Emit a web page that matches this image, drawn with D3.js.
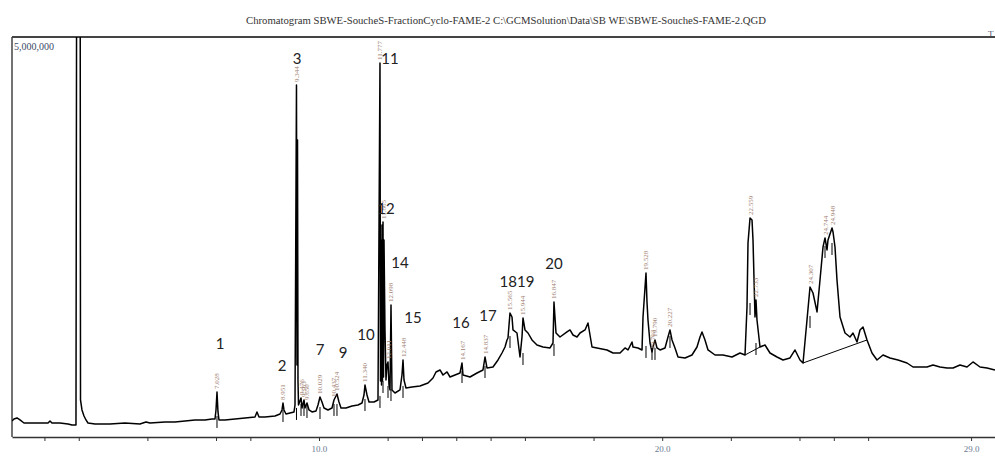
<!DOCTYPE html>
<html>
<head>
<meta charset="utf-8">
<script src="https://cdn.jsdelivr.net/npm/d3@7"></script>
<style>
  body { margin: 0; background: #fff; }
</style>
</head>
<body>
<div id="chart"></div>
<script>
var title = "Chromatogram SBWE-SoucheS-FractionCyclo-FAME-2 C:\\GCMSolution\\Data\\SB WE\\SBWE-SoucheS-FAME-2.QGD";

// TIC trace: [retention time (min), intensity (x1000 counts)]
var trace = [
  [1.055,200],[1.113,225],[1.200,238],[1.288,213],[1.404,175],[1.579,175],[1.870,175],[2.104,175],[2.162,200],[2.220,175],
  [2.453,175],[2.686,163],[2.803,150],[2.919,150],[2.949,9000],[3.036,9000],[3.051,463],[3.094,338],[3.153,263],[3.211,213],
  [3.269,175],[3.473,163],[3.910,163],[4.347,175],[4.784,163],[4.959,188],[5.076,175],[5.513,188],[5.804,188],[6.096,200],
  [6.387,213],[6.678,213],[6.882,225],[6.970,225],[6.999,338],[7.028,563],[7.057,313],[7.086,213],[7.261,213],[7.552,225],
  [7.844,238],[8.135,250],[8.193,313],[8.252,250],[8.427,250],[8.718,263],[8.864,288],[8.922,338],[8.951,425],[8.980,338],
  [9.038,288],[9.155,300],[9.272,313],[9.301,400],[9.344,4400],[9.359,900],[9.374,3713],[9.388,700],[9.403,400],[9.476,488],[9.505,363],[9.563,463],
  [9.592,363],[9.650,425],[9.709,338],[9.796,313],[9.913,325],[9.971,400],[10.029,500],[10.087,438],[10.146,363],[10.262,338],
  [10.379,363],[10.437,463],[10.495,513],[10.524,538],[10.583,438],[10.641,363],[10.787,363],[10.962,388],[11.136,400],[11.253,425],
  [11.311,525],[11.340,650],[11.399,525],[11.457,438],[11.603,438],[11.719,463],[11.777,4675],[11.792,700],[11.807,2463],[11.822,650],[11.836,2650],[11.850,700],[11.865,2688],
  [11.880,750],[11.894,2463],[11.923,1338],[11.952,713],[11.981,900],[12.011,938],[12.040,650],[12.069,588],[12.098,1650],[12.127,588],[12.214,550],
  [12.360,588],[12.418,775],[12.448,963],[12.477,713],[12.535,613],[12.710,625],[12.943,638],[13.176,675],[13.322,738],[13.409,813],
  [13.526,838],[13.613,775],[13.730,813],[13.817,750],[13.963,775],[14.108,800],[14.138,863],[14.167,925],[14.196,775],[14.400,750],
  [14.604,800],[14.779,838],[14.837,1000],[14.895,863],[15.070,875],[15.216,963],[15.332,1050],[15.420,1125],[15.478,1213],[15.507,1238],
  [15.565,1550],[15.624,1500],[15.653,1338],[15.769,1300],[15.857,1000],[15.915,1250],[15.944,1488],[16.002,1338],[16.090,1300],[16.206,1213],
  [16.352,1150],[16.527,1125],[16.731,1113],[16.818,1175],[16.847,1688],[16.906,1300],[17.022,1250],[17.226,1313],[17.314,1338],[17.401,1275],
  [17.518,1250],[17.605,1300],[17.751,1338],[17.838,1425],[17.955,1125],[18.100,1113],[18.392,1088],[18.567,1050],[18.771,1050],[18.916,1113],
  [19.004,1088],[19.120,1188],[19.149,1125],[19.295,1113],[19.412,1088],[19.441,1500],[19.528,2050],[19.557,1688],[19.586,1463],[19.645,1175],
  [19.703,1063],[19.732,1125],[19.790,1213],[19.849,1113],[19.936,1088],[20.082,1113],[20.169,1250],[20.227,1338],[20.286,1213],[20.373,1113],
  [20.461,1000],[20.665,988],[20.868,1025],[21.014,1125],[21.102,1250],[21.160,1313],[21.247,1213],[21.335,1088],[21.539,1025],[21.772,1025],
  [22.034,1000],[22.267,1050],[22.413,1025],[22.471,1625],[22.500,2425],[22.559,2738],[22.617,2713],[22.646,2463],[22.704,1500],[22.733,1713],
  [22.762,1463],[22.850,1125],[22.996,1150],[23.141,1050],[23.345,1000],[23.520,963],[23.724,988],[23.870,1088],[24.015,963],[24.103,925],
  [24.219,1463],[24.307,1875],[24.394,1800],[24.511,1563],[24.598,1963],[24.686,2375],[24.744,2488],[24.802,2338],[24.831,2463],[24.948,2613],
  [24.977,2563],[25.035,2375],[25.093,1963],[25.181,1500],[25.327,1300],[25.472,1250],[25.560,1300],[25.676,1188],[25.764,1338],[25.851,1375],
  [25.968,1213],[26.113,1050],[26.259,963],[26.434,1025],[26.638,988],[26.871,963],[27.133,925],[27.308,875],[27.716,875],[27.891,900],
  [28.095,875],[28.299,863],[28.474,863],[28.677,900],[28.881,875],[29.056,938],[29.260,875],[29.464,863],[29.697,838]
];

// detected peaks (retention time labels)
var peakTimes = [7.028, 8.951, 9.344, 9.476, 9.563, 9.650, 10.029, 10.437, 10.524, 11.340, 11.777, 11.865, 12.011, 12.098, 12.448,
                 14.167, 14.837, 15.565, 15.944, 16.847, 19.528, 19.703, 19.790, 20.227, 22.559, 22.733, 24.307, 24.744, 24.948];

// hand written peak numbers: [text, time, intensity]
var peakNumbers = [
  ["1",7.115,1100],["2",8.922,825],["3",9.359,4663],["7",10.029,1025],["9",10.699,988],["10",11.370,1213],
  ["11",12.069,4663],["12",11.952,2788],["14",12.360,2113],["15",12.739,1425],["16",14.138,1363],["17",14.924,1450],
  ["1819",15.769,1875],["20",16.847,2100]
];

var tickTimes = [2,3,5,7,8,10,12,13,14,15,16,18,20,22,24,25,26,29];
var tickLabels = [10,20,29];
var integrationLines = [[22.413,22.850],[24.103,25.968]];
var yTop = 5000;

var width = 995, height = 460;
var svg = d3.select("#chart").append("svg")
    .attr("width", width)
    .attr("height", height);

var x = d3.scaleLinear().domain([1.055, 29.697]).range([12, 995]);
var y = d3.scaleLinear().domain([0, yTop]).range([437, 37]);

// title
svg.append("text")
    .attr("x", 246).attr("y", 24)
    .attr("textLength", 520).attr("lengthAdjust", "spacingAndGlyphs")
    .style("font-family", "Liberation Serif").style("font-size", "10px")
    .style("fill", "#333")
    .text(title);

svg.append("text")
    .attr("x", 988).attr("y", 37)
    .style("font-family", "Liberation Serif").style("font-size", "9px")
    .style("fill", "#557")
    .text("T");

svg.append("defs").append("clipPath").attr("id", "plotclip")
  .append("rect").attr("x", 12).attr("y", y(yTop)).attr("width", 983).attr("height", 437 - y(yTop));

// frame
svg.append("line").attr("x1", 12).attr("x2", 995).attr("y1", y(yTop)).attr("y2", y(yTop))
    .attr("stroke", "#444").attr("stroke-width", 2);
svg.append("line").attr("x1", 12).attr("x2", 12).attr("y1", y(yTop)).attr("y2", 437)
    .attr("stroke", "#444").attr("stroke-width", 1.5);

svg.append("text")
    .attr("x", 14).attr("y", 50)
    .style("font-family", "Liberation Serif").style("font-size", "10px")
    .style("fill", "#3a4a66")
    .text(d3.format(",")(yTop * 1000));

// x axis
var xAxis = d3.axisBottom(x)
    .tickValues(tickTimes)
    .tickSize(4)
    .tickSizeOuter(0)
    .tickFormat(function(d) { return tickLabels.indexOf(d) >= 0 ? d.toFixed(1) : ""; });

var gx = svg.append("g").attr("transform", "translate(0,437)").call(xAxis);
gx.select(".domain").attr("stroke", "#333").attr("stroke-width", 1.5);
gx.selectAll(".tick line").attr("stroke", "#333");
gx.selectAll(".tick text")
    .attr("dy", "0.9em")
    .style("font-family", "Liberation Serif").style("font-size", "9px")
    .style("fill", "#6a7a90");

// chromatogram
var line = d3.line()
    .x(function(d) { return x(d[0]); })
    .y(function(d) { return y(d[1]); });

var g = svg.append("g").attr("clip-path", "url(#plotclip)");
g.append("path")
    .datum(trace)
    .attr("d", line)
    .attr("fill", "none")
    .attr("stroke", "#000")
    .attr("stroke-width", 1.5)
    .attr("stroke-linejoin", "round");

function valueAt(t) {
  var i = d3.bisector(function(d) { return d[0]; }).left(trace, t);
  if (i <= 0) return trace[0][1];
  if (i >= trace.length) return trace[trace.length - 1][1];
  var a = trace[i - 1], b = trace[i];
  return a[1] + (b[1] - a[1]) * (t - a[0]) / (b[0] - a[0]);
}
function apexAt(t) {
  return d3.max(trace.filter(function(d) { return Math.abs(d[0] - t) < 0.02; }), function(d) { return d[1]; }) || valueAt(t);
}
function floorAt(t) {
  return d3.min(trace.filter(function(d) { return Math.abs(d[0] - t) < 0.12; }), function(d) { return d[1]; });
}

// integration baselines
integrationLines.forEach(function(seg) {
  g.append("line")
    .attr("x1", x(seg[0])).attr("y1", y(valueAt(seg[0])))
    .attr("x2", x(seg[1])).attr("y2", y(valueAt(seg[1])))
    .attr("stroke", "#000").attr("stroke-width", 1);
});

// peak markers below the baseline
g.selectAll(".pmark").data(peakTimes).enter().append("line")
    .attr("class", "pmark")
    .attr("x1", function(d) { return x(d); }).attr("x2", function(d) { return x(d); })
    .attr("y1", function(d) { return y(floorAt(d)) - 4; })
    .attr("y2", function(d) { return y(floorAt(d)) + 8; })
    .attr("stroke", "#000").attr("stroke-width", 1);

// retention time labels (vertical)
svg.selectAll(".rt").data(peakTimes).enter().append("text")
    .attr("class", "rt")
    .attr("transform", function(d) {
      return "translate(" + (x(d) + 2.5) + "," + (Math.max(y(apexAt(d)), 60) - 3) + ")rotate(-90)";
    })
    .style("font-family", "Liberation Serif").style("font-size", "7px")
    .style("fill", "#a08070")
    .text(function(d) { return d.toFixed(3); });

// peak numbers
svg.selectAll(".pnum").data(peakNumbers).enter().append("text")
    .attr("class", "pnum")
    .attr("x", function(d) { return x(d[1]); })
    .attr("y", function(d) { return y(d[2]); })
    .attr("text-anchor", "middle")
    .style("font-family", "Lato").style("font-size", "15px")
    .style("fill", "#222")
    .text(function(d) { return d[0]; });
</script>
</body>
</html>
